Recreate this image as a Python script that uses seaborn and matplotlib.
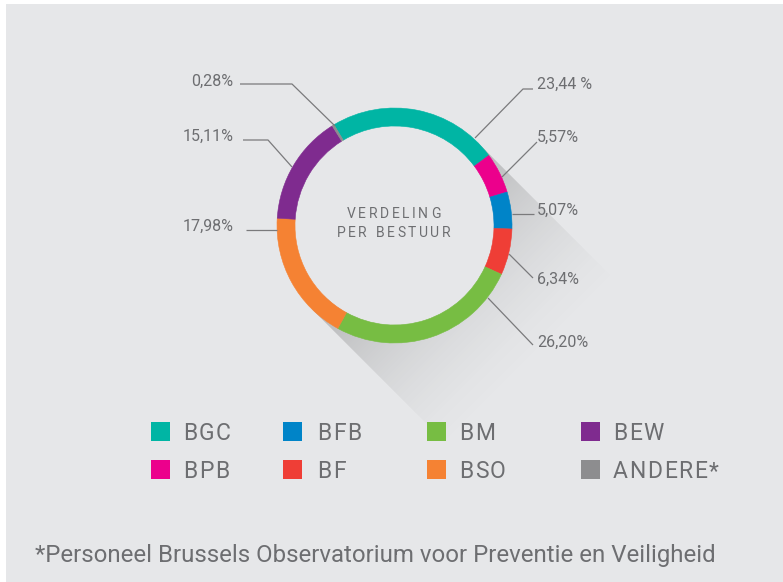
import numpy as np
import matplotlib
matplotlib.use("Agg")
import matplotlib.pyplot as plt
from matplotlib.patches import Rectangle, Circle, Polygon
import seaborn as sns

sns.set_style("white")
plt.rcParams['font.family'] = ['Roboto', 'DejaVu Sans']

# data (clockwise from the top-left)
besturen = ['BGC', 'BPB', 'BFB', 'BF', 'BM', 'BSO', 'BEW', 'ANDERE*']
aandeel = [23.44, 5.57, 5.07, 6.34, 26.20, 17.98, 15.11, 0.28]
labels = ['23,44 %', '5,57%', '5,07%', '6,34%', '26,20%', '17,98%', '15,11%', '0,28%']
kleuren = ['#00b5a4', '#ec008c', '#0084c8', '#ef3e36', '#77bd43', '#f58233', '#7f2b8f', '#8d8d8f']
palette = dict(zip(besturen, sns.color_palette(kleuren)))

legend_order = ['BGC', 'BFB', 'BM', 'BEW', 'BPB', 'BF', 'BSO', 'ANDERE*']

BG = '#e6e7e9'
TXT = '#6d6e71'
W, H = 783, 582

fig = plt.figure(figsize=(W / 100, H / 100), dpi=100)
ax = fig.add_axes([0, 0, 1, 1])
renderer = fig.canvas.get_renderer()

def Y(py):  # pixel row -> data y
    return H - py

def tracked(x0, base, s, size, track, ha='left'):
    # text with extra letter spacing (1 data unit = 1 px)
    widths = []
    for ch in s:
        tt = ax.text(0, 0, ch, fontsize=size)
        widths.append(tt.get_window_extent(renderer).width if ch != ' ' else size * 0.35)
        tt.remove()
    total = sum(widths) + track * (len(s) - 1)
    x = x0 - total / 2 if ha == 'center' else x0
    for ch, w in zip(s, widths):
        ax.text(x, Y(base), ch, ha='left', va='baseline', fontsize=size,
                color=TXT, zorder=5)
        x += w + track

cx, cy = 394.5, Y(225.5)
R, ring = 117.5, 18

ax.add_patch(Rectangle((6, 0), W, H - 4, fc=BG, ec='none', zorder=0))

# long shadow towards bottom-right
L = 200
d = np.array([1, -1]) / np.sqrt(2)
p1 = np.array([cx, cy]) + R * np.array([np.cos(np.pi / 4), np.sin(np.pi / 4)])
p2 = np.array([cx, cy]) + R * np.array([np.cos(5 * np.pi / 4), np.sin(5 * np.pi / 4)])
shadow = Polygon([p1, p1 + L * d, p2 + L * d, p2], closed=True, transform=ax.transData)
gx, gy = np.meshgrid(np.arange(W) + 0.5, np.arange(H) + 0.5)
t = ((gx - cx) * d[0] + (gy - cy) * d[1]) / L
a = 0.34 * np.clip(1 - t, 0, 1) ** 1.6
rgba = np.zeros((H, W, 4))
rgba[..., :3] = 0.33
rgba[..., 3] = a
im = ax.imshow(rgba, extent=(0, W, 0, H), origin='lower', aspect='auto',
               interpolation='bilinear', zorder=1)
im.set_clip_path(shadow)
ax.add_patch(Circle((cx, cy), R - ring, fc=BG, ec='none', zorder=2))

# donut
wedges, _ = ax.pie(aandeel, colors=[palette[b] for b in besturen], startangle=121,
                   counterclock=False, radius=R, center=(cx, cy),
                   wedgeprops=dict(width=ring, linewidth=0.4, zorder=3))
for w in wedges:
    w.set_edgecolor(w.get_facecolor())

# labels with leader lines (pixel layout)
label_x = {'23,44 %': 537, '5,57%': 537, '5,07%': 537, '6,34%': 537,
           '26,20%': 537, '17,98%': 234, '15,11%': 234, '0,28%': 233}
label_base = {'23,44 %': 89, '5,57%': 142, '5,07%': 215, '6,34%': 284,
              '26,20%': 347, '17,98%': 230.5, '15,11%': 141, '0,28%': 85.5}
leaders = {
    '23,44 %': [(475, 138), (523, 89), (533, 89)],
    '5,57%': [(502, 177), (537, 142)],
    '5,07%': [(512, 214), (534, 214)],
    '6,34%': [(509, 254), (533, 278)],
    '26,20%': [(488, 298), (533, 345)],
    '17,98%': [(246, 230), (277, 230)],
    '15,11%': [(243, 140), (268, 140), (292, 167)],
    '0,28%': [(240, 84), (292, 84), (335, 126)],
}
for lab in labels:
    pts = np.array(leaders[lab], dtype=float)
    ax.plot(pts[:, 0], Y(pts[:, 1]), color='#7a7a7c', lw=0.9, zorder=4,
            solid_capstyle='butt')
    ha = 'left' if label_x[lab] > cx else 'right'
    ax.text(label_x[lab], Y(label_base[lab]), lab, ha=ha, va='baseline',
            fontsize=11.5, color=TXT, zorder=5)

# centre title
tracked(393.5, 218, 'VERDELING', 10, 2.6, ha='center')
tracked(393.5, 237, 'PER BESTUUR', 10, 2.6, ha='center')

# legend
sq_x = [151, 283, 427, 581]
txt_x = [183, 317, 459, 613]
row_top = [422, 460]
row_base = [440, 478]
for i, b in enumerate(legend_order):
    r, c = divmod(i, 4)
    ax.add_patch(Rectangle((sq_x[c], Y(row_top[r] + 19)), 19, 19,
                           fc=palette[b], ec='none', zorder=5))
    tracked(txt_x[c], row_base[r], b, 16.5, 1.6)

ax.text(35, Y(562), '*Personeel Brussels Observatorium voor Preventie en Veiligheid',
        ha='left', va='baseline', fontsize=17.3, color=TXT, zorder=5)

ax.set_xlim(0, W)
ax.set_ylim(0, H)
ax.set_aspect('auto')
ax.axis('off')
fig.savefig('out.png', dpi=100, facecolor='white')
